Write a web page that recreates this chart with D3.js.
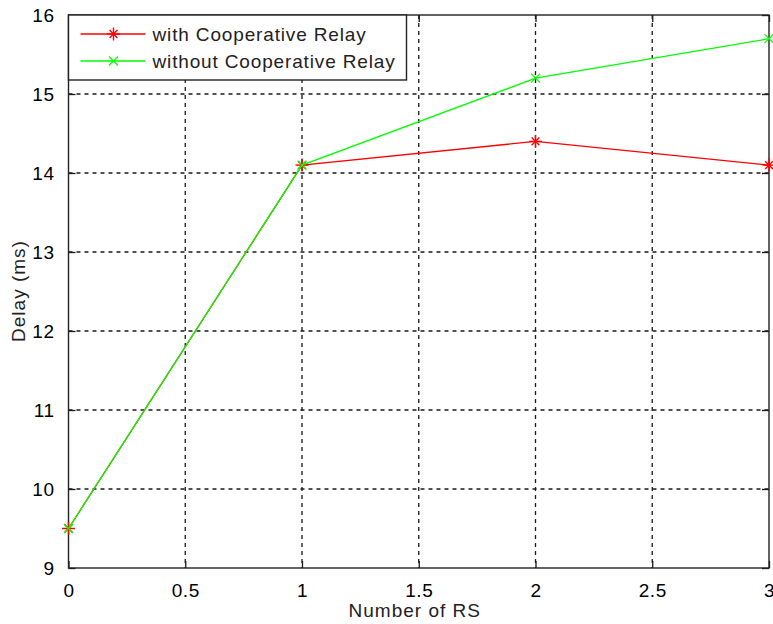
<!DOCTYPE html>
<html>
<head>
<meta charset="utf-8">
<script src="https://cdn.jsdelivr.net/npm/d3@7"></script>
<style>
  body { margin: 0; background: #fff; }
  text { font-family: "Liberation Sans", Arial, sans-serif; }
</style>
</head>
<body>
<svg id="chart"></svg>
<script>
// number of relay stations
const rsCount = [0, 1, 2, 3];
const withRelay = [9.5, 14.1, 14.4, 14.1];
const withoutRelay = [9.5, 14.1, 15.2, 15.7];
const xTicks = [0, 0.5, 1, 1.5, 2, 2.5, 3];
const yTicks = [9, 10, 11, 12, 13, 14, 15, 16];
const seriesNames = ['with Cooperative Relay', 'without Cooperative Relay'];

const svgWidth = 773;
const svgHeight = 624;
const margin = { top: 15, right: 4, bottom: 56, left: 68.5 };
const width = svgWidth - margin.left - margin.right;
const height = svgHeight - margin.top - margin.bottom;
const tickLen = 7;

const svg = d3.select('#chart')
  .attr('width', svgWidth)
  .attr('height', svgHeight);

const g = svg.append('g')
  .attr('transform', `translate(${margin.left}, ${margin.top})`);

const xScale = d3.scaleLinear().domain([0, 3]).range([0, width]);
const yScale = d3.scaleLinear().domain([9, 16]).range([height, 0]);

// grid
g.append('g')
  .selectAll('line')
  .data(xTicks.slice(1, -1))
  .enter()
  .append('line')
    .attr('x1', d => xScale(d))
    .attr('x2', d => xScale(d))
    .attr('y1', 0)
    .attr('y2', height)
    .attr('stroke', '#1a1a1a')
    .attr('stroke-width', 1.3)
    .attr('stroke-dasharray', '4,4');

g.append('g')
  .selectAll('line')
  .data(yTicks.slice(1, -1))
  .enter()
  .append('line')
    .attr('y1', d => yScale(d))
    .attr('y2', d => yScale(d))
    .attr('x1', 0)
    .attr('x2', width)
    .attr('stroke', '#1a1a1a')
    .attr('stroke-width', 1.3)
    .attr('stroke-dasharray', '4,4');

// axes with inward ticks
const xAxis = d3.axisBottom(xScale).tickValues(xTicks).tickSize(-tickLen).tickPadding(16).tickFormat(d3.format('~g'));
const yAxis = d3.axisLeft(yScale).tickValues(yTicks).tickSize(-tickLen).tickPadding(14).tickFormat(d3.format('d'));

const gx = g.append('g')
  .attr('transform', `translate(0, ${height})`)
  .call(xAxis);
const gy = g.append('g').call(yAxis);

g.append('g')
  .call(d3.axisTop(xScale).tickValues(xTicks).tickSize(-tickLen).tickFormat(''));
g.append('g')
  .attr('transform', `translate(${width}, 0)`)
  .call(d3.axisRight(yScale).tickValues(yTicks).tickSize(-tickLen).tickFormat(''));

g.selectAll('.domain').remove();
g.selectAll('.tick line').attr('stroke', '#1a1a1a').attr('stroke-width', 1.3);
[gx, gy].forEach(a => a.selectAll('text')
  .attr('font-size', 19)
  .attr('fill', '#000')
  .style('letter-spacing', '0.5px'));

g.append('rect')
  .attr('x', 0)
  .attr('y', 0)
  .attr('width', width)
  .attr('height', height)
  .attr('fill', 'none')
  .attr('stroke', '#222')
  .attr('stroke-width', 1.4);

// series
const line = d3.line()
  .x((d, i) => xScale(rsCount[i]))
  .y(d => yScale(d));

function starMarker(sel, x, y, color) {
  const r = 6.5;
  const p = sel.append('g').attr('transform', `translate(${x}, ${y})`).attr('stroke', color).attr('stroke-width', 1.4);
  p.append('line').attr('x1', -r).attr('x2', r).attr('y1', 0).attr('y2', 0);
  p.append('line').attr('x1', 0).attr('x2', 0).attr('y1', -r).attr('y2', r);
  p.append('line').attr('x1', -r * 0.6).attr('x2', r * 0.6).attr('y1', -r * 0.6).attr('y2', r * 0.6);
  p.append('line').attr('x1', -r * 0.6).attr('x2', r * 0.6).attr('y1', r * 0.6).attr('y2', -r * 0.6);
}

function crossMarker(sel, x, y, color) {
  const r = 4.5;
  const p = sel.append('g').attr('transform', `translate(${x}, ${y})`).attr('stroke', color).attr('stroke-width', 1.2);
  p.append('line').attr('x1', -r).attr('x2', r).attr('y1', -r).attr('y2', r);
  p.append('line').attr('x1', -r).attr('x2', r).attr('y1', r).attr('y2', -r);
}

const series = [
  { values: withRelay, color: '#ff0000', marker: starMarker },
  { values: withoutRelay, color: '#00ff00', marker: crossMarker }
];

series.forEach(s => {
  g.append('path')
    .datum(s.values)
    .attr('d', line)
    .attr('fill', 'none')
    .attr('stroke', s.color)
    .attr('stroke-width', 1.3);
  s.values.forEach((v, i) => s.marker(g, xScale(rsCount[i]), yScale(v), s.color));
});

// legend
const legend = g.append('g');
legend.append('rect')
  .attr('x', 0)
  .attr('y', 0)
  .attr('width', 338)
  .attr('height', 65)
  .attr('fill', '#fff')
  .attr('stroke', '#222')
  .attr('stroke-width', 1.4);

series.forEach((s, i) => {
  const ly = 19 + i * 27;
  legend.append('line')
    .attr('x1', 12)
    .attr('x2', 77)
    .attr('y1', ly)
    .attr('y2', ly)
    .attr('stroke', s.color)
    .attr('stroke-width', 1.3);
  s.marker(legend, 45, ly, s.color);
  legend.append('text')
    .attr('x', 84)
    .attr('y', ly + 7)
    .attr('font-size', 19)
    .style('letter-spacing', '0.85px')
    .attr('fill', '#222')
    .text(seriesNames[i]);
});

// axis titles
svg.append('text')
  .attr('x', margin.left + width / 2 - 4)
  .attr('y', 617)
  .attr('text-anchor', 'middle')
  .attr('font-size', 19)
  .style('letter-spacing', '1px')
  .attr('fill', '#222')
  .text('Number of RS');

svg.append('text')
  .attr('transform', 'translate(25, 291) rotate(-90)')
  .attr('text-anchor', 'middle')
  .attr('font-size', 19)
  .style('letter-spacing', '1px')
  .attr('fill', '#222')
  .text('Delay (ms)');
</script>
</body>
</html>
